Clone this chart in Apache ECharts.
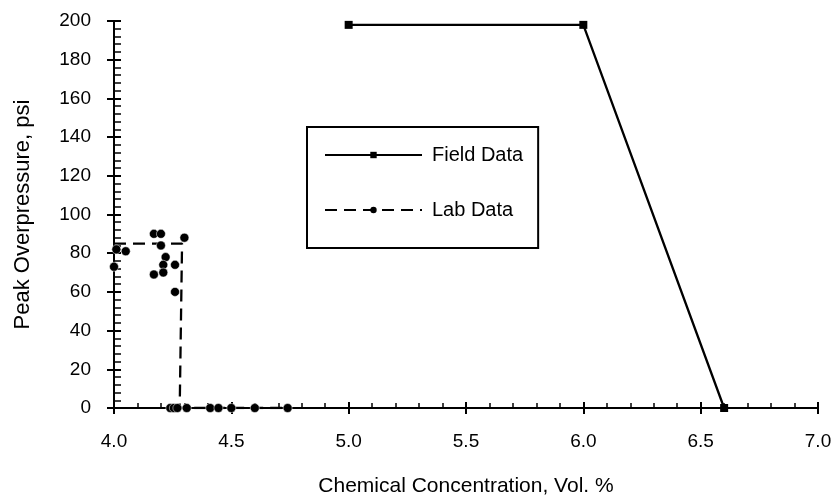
<!DOCTYPE html>
<html>
<head>
<meta charset="utf-8">
<script src="https://cdn.jsdelivr.net/npm/echarts@6/dist/echarts.min.js"></script>
<style>
html,body{margin:0;padding:0;background:#fff;}
#chart{width:831px;height:498px;}
</style>
</head>
<body>
<div id="chart"></div>
<script>
// Field data (squares, solid line)
var fieldX = [5.0, 6.0, 6.6];
var fieldY = [198, 198, 0];

// Lab data fit line (dashed)
var labLineX = [4.0, 4.29, 4.28, 4.75];
var labLineY = [85, 85, 0, 0];

// Lab data measured points (dots)
var labX = [4.00, 4.01, 4.05, 4.17, 4.20, 4.20, 4.22, 4.21, 4.26, 4.17, 4.21, 4.26, 4.30,
            4.24, 4.255, 4.27, 4.31, 4.41, 4.445, 4.50, 4.60, 4.74];
var labY = [73, 82, 81, 90, 90, 84, 78, 74, 74, 69, 70, 60, 88,
            0, 0, 0, 0, 0, 0, 0, 0, 0];

var xTitle = 'Chemical Concentration, Vol. %';
var yTitle = 'Peak Overpressure, psi';
var legendNames = ['Field Data', 'Lab Data'];

function zip(a, b) { return a.map(function (v, i) { return [v, b[i]]; }); }

var FONT = '"Liberation Sans", Arial, Helvetica, sans-serif';
var chart = echarts.init(document.getElementById('chart'), null, {renderer: 'canvas'});

var option = {
  animation: false,
  backgroundColor: '#ffffff',
  grid: {left: 114, right: 13, top: 21, bottom: 90, containLabel: false, outerBoundsMode: 'none'},
  legend: {
    data: legendNames,
    orient: 'vertical',
    left: 307,
    top: 127,
    itemWidth: 97,
    itemHeight: 8,
    itemGap: 35,
    padding: [18, 15, 28, 17],
    borderColor: '#000',
    borderWidth: 2,
    backgroundColor: '#fff',
    textStyle: {color: '#000', fontSize: 20, fontFamily: FONT, lineHeight: 20, padding: [0, 0, 0, 5]},
    selectedMode: false
  },
  xAxis: [{
    type: 'value', min: 4, max: 7, interval: 0.5, position: 'bottom',
    name: xTitle, nameLocation: 'middle', nameGap: 68,
    nameTextStyle: {color: '#000', fontSize: 21, fontFamily: FONT},
    axisLine: {onZero: false, lineStyle: {color: '#000', width: 2}},
    axisTick: {show: true, inside: false, length: 6, lineStyle: {color: '#000', width: 2}},
    minorTick: {show: false},
    axisLabel: {color: '#000', fontSize: 19, fontFamily: FONT, margin: 24,
      formatter: function (v) { return v.toFixed(1); }},
    splitLine: {show: false}
  }, {
    type: 'value', min: 4, max: 7, interval: 0.5, position: 'top', offset: -387,
    axisLine: {show: false, onZero: false},
    axisTick: {show: true, inside: false, length: 6, lineStyle: {color: '#000', width: 2}},
    minorTick: {show: true, splitNumber: 5, length: 5, lineStyle: {color: '#000', width: 1.5}},
    axisLabel: {show: false},
    splitLine: {show: false}
  }],
  yAxis: [{
    type: 'value', min: 0, max: 200, interval: 20, position: 'left',
    name: yTitle, nameLocation: 'middle', nameGap: 80, nameRotate: 90,
    nameTextStyle: {color: '#000', fontSize: 22, fontFamily: FONT},
    axisLine: {show: true, onZero: false, lineStyle: {color: '#000', width: 2}},
    axisTick: {show: true, inside: false, length: 7, lineStyle: {color: '#000', width: 2}},
    minorTick: {show: false},
    axisLabel: {color: '#000', fontSize: 19, fontFamily: FONT, margin: 23},
    splitLine: {show: false}
  }, {
    type: 'value', min: 0, max: 200, interval: 20, position: 'right', offset: -704,
    axisLine: {show: false, onZero: false},
    axisTick: {show: true, inside: false, length: 7, lineStyle: {color: '#000', width: 2}},
    minorTick: {show: true, splitNumber: 5, length: 7, lineStyle: {color: '#000', width: 1.5}},
    axisLabel: {show: false},
    splitLine: {show: false}
  }],
  series: [{
    name: 'Field Data',
    type: 'line',
    data: zip(fieldX, fieldY),
    symbol: 'rect',
    symbolSize: 8,
    showSymbol: true,
    lineStyle: {color: '#000', width: 2.3, type: 'solid'},
    itemStyle: {color: '#000'},
    emphasis: {disabled: true},
    z: 3
  }, {
    name: 'Lab Data',
    type: 'line',
    data: zip(labLineX, labLineY),
    symbol: 'circle',
    symbolSize: 8,
    showSymbol: false,
    lineStyle: {color: '#000', width: 2.3, type: [12, 7]},
    itemStyle: {color: '#000'},
    emphasis: {disabled: true},
    z: 3
  }, {
    name: 'Lab points',
    type: 'scatter',
    data: zip(labX, labY),
    symbol: 'circle',
    symbolSize: 9,
    itemStyle: {color: '#000', opacity: 1, borderColor: '#fff', borderWidth: 0.5},
    emphasis: {disabled: true},
    z: 4
  }]
};
chart.setOption(option);
</script>
</body>
</html>
